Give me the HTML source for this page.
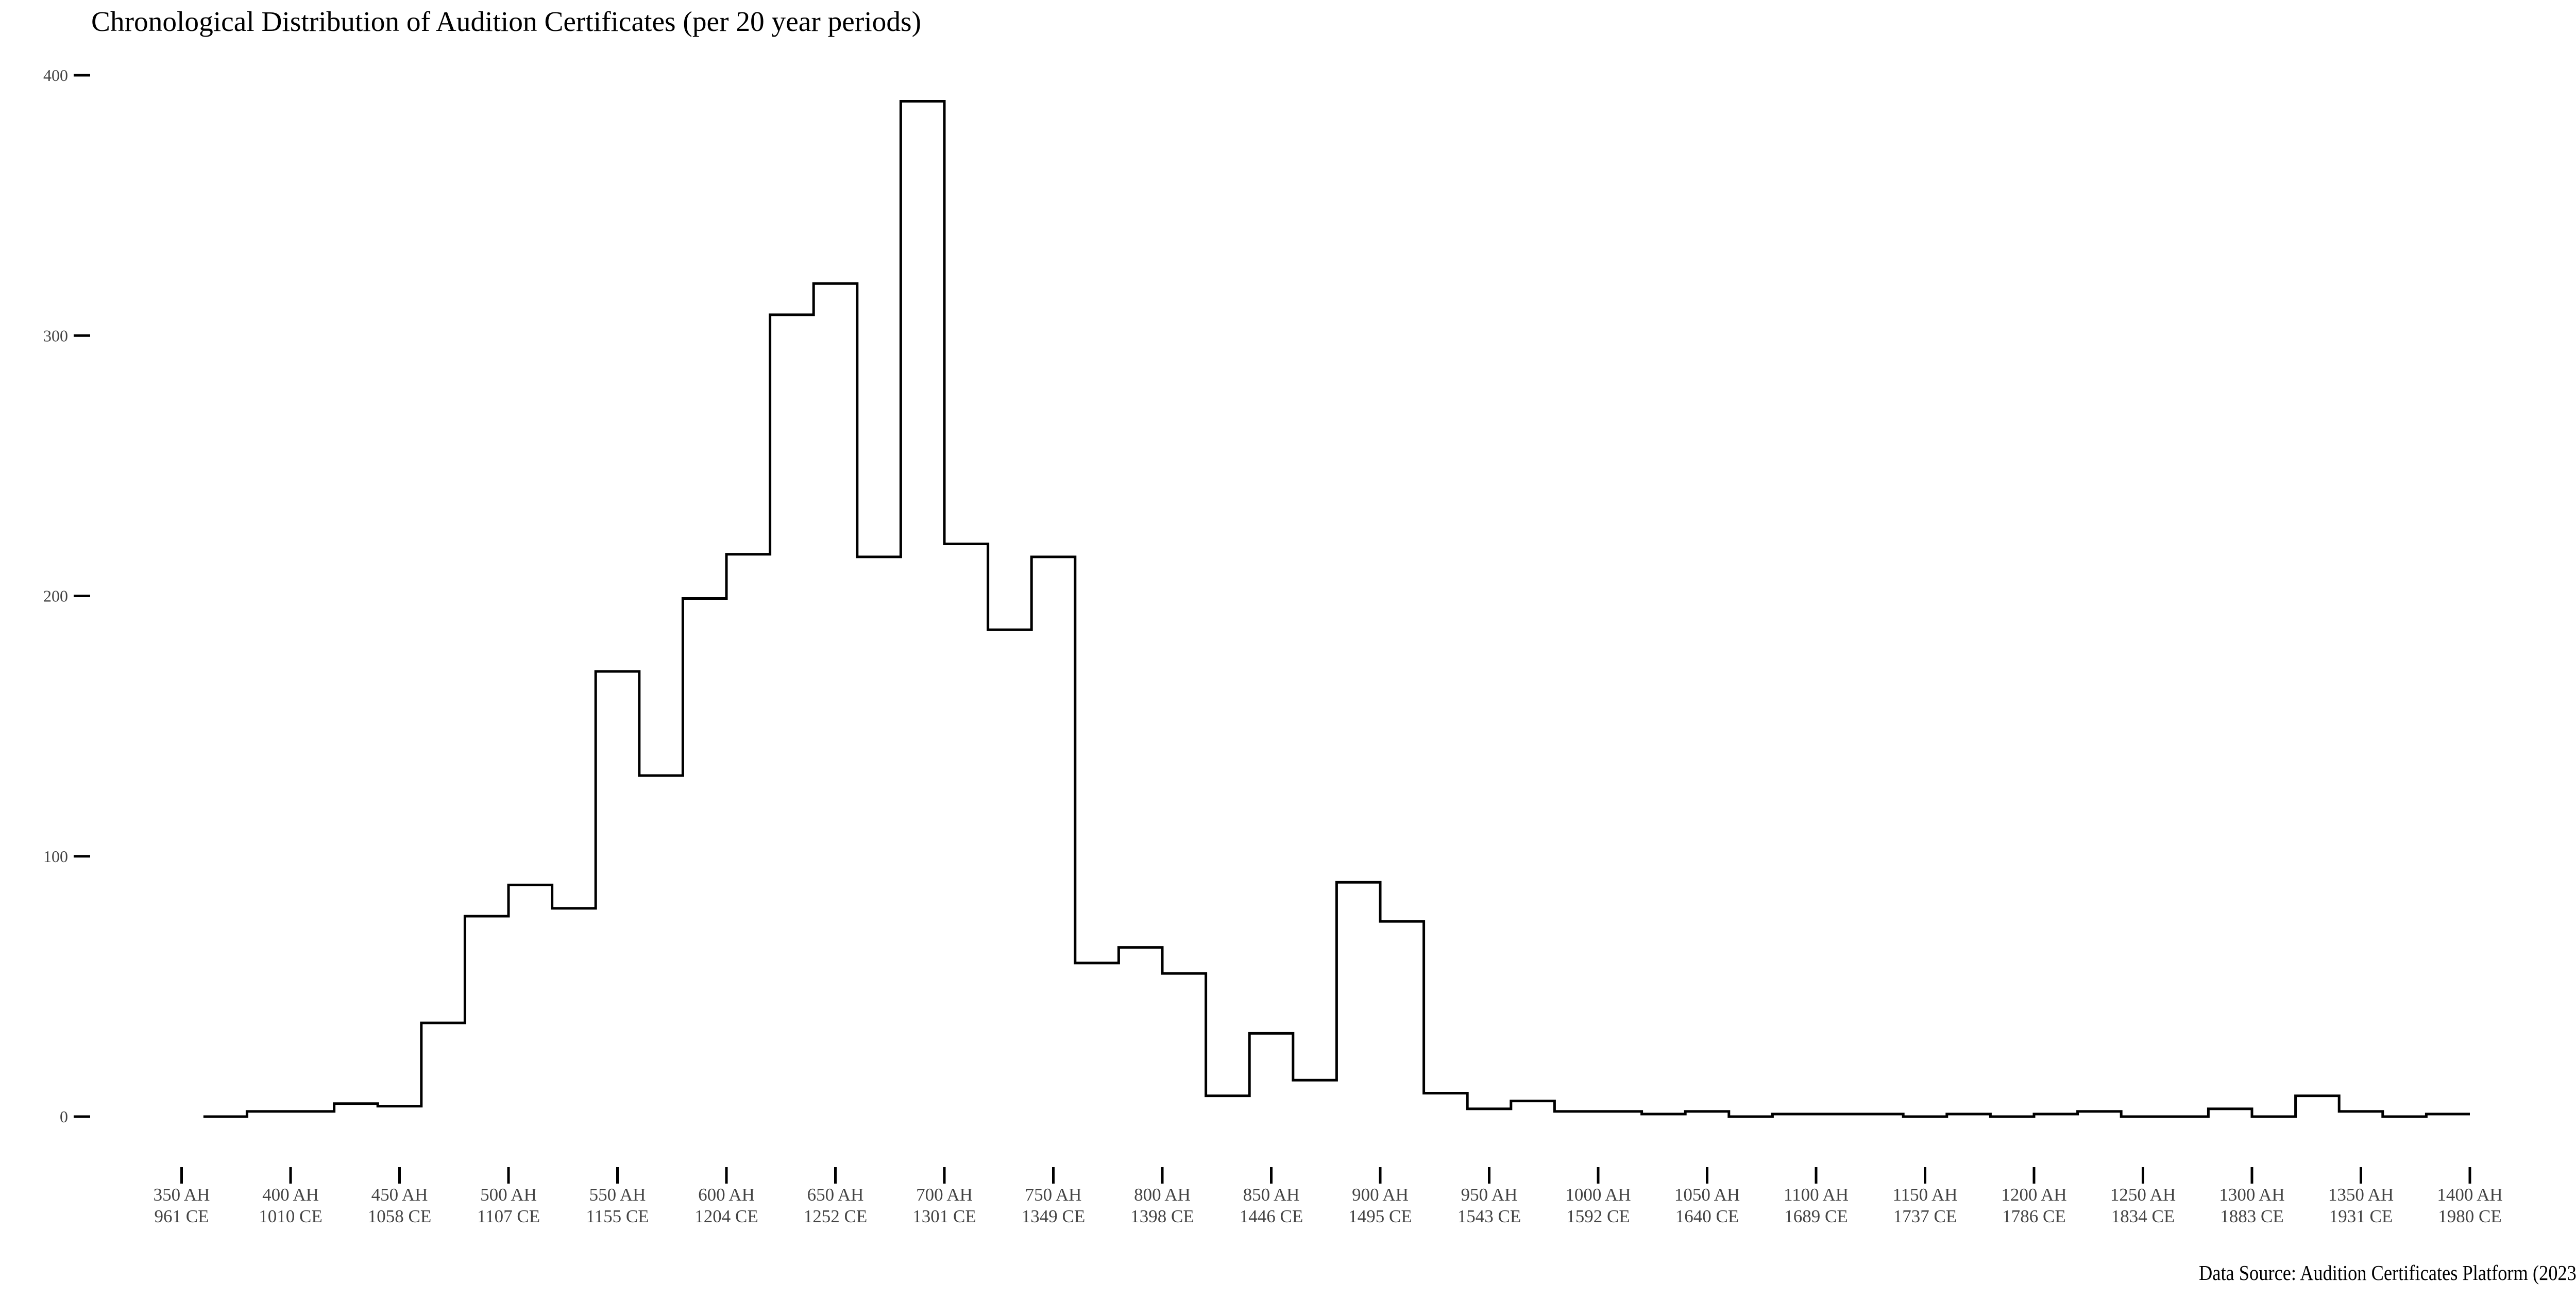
<!DOCTYPE html>
<html>
<head>
<meta charset="utf-8">
<style>
html,body{margin:0;padding:0;background:#fff;overflow:hidden;}
svg{display:block;}
text{font-family:"Liberation Serif",serif;}
</style>
</head>
<body>
<svg id="chart" width="5039" height="2519" viewBox="0 0 5039 2519" xmlns="http://www.w3.org/2000/svg">
  <text x="177" y="60" font-size="55" fill="#000" textLength="1611" lengthAdjust="spacingAndGlyphs">Chronological Distribution of Audition Certificates (per 20 year periods)</text>
  <g id="yaxis"></g>
  <g id="xaxis"></g>
  <path id="step" fill="none" stroke="#000" stroke-width="5" stroke-linejoin="miter"></path>
  <text x="4268" y="2484" font-size="41" fill="#000" textLength="745" lengthAdjust="spacingAndGlyphs">Data Source: Audition Certificates Platform (2023)</text>
</svg>
<script>
const binStarts = [360,380,400,420,440,460,480,500,520,540,560,580,600,620,640,660,680,700,720,740,760,780,800,820,840,860,880,900,920,940,960,980,1000,1020,1040,1060,1080,1100,1120,1140,1160,1180,1200,1220,1240,1260,1280,1300,1320,1340,1360,1380];
const counts = [0,2,2,5,4,36,77,89,80,171,131,199,216,308,320,215,390,220,187,215,59,65,55,8,32,14,90,75,9,3,6,2,2,1,2,0,1,1,1,0,1,0,1,2,0,0,3,0,8,2,0,1];
const binWidth = 20;
const yTicks = [0,100,200,300,400];
const xTickAH = [350,400,450,500,550,600,650,700,750,800,850,900,950,1000,1050,1100,1150,1200,1250,1300,1350,1400];
const xTickCE = [961,1010,1058,1107,1155,1204,1252,1301,1349,1398,1446,1495,1543,1592,1640,1689,1737,1786,1834,1883,1931,1980];

const NS = "http://www.w3.org/2000/svg";
function xs(v){ return 352.5 + (v - 350) * (4441.5 / 1050); }
function ys(v){ return 2167 - v * (2021 / 400); }

const yg = document.getElementById('yaxis');
yTicks.forEach(t => {
  const l = document.createElementNS(NS,'line');
  
  
  l.setAttribute('x1',143); l.setAttribute('x2',175);
  l.setAttribute('y1',ys(t)); l.setAttribute('y2',ys(t));
  l.setAttribute('stroke','#000'); l.setAttribute('stroke-width','5');
  yg.appendChild(l);
  const tx = document.createElementNS(NS,'text');
  
  
  tx.setAttribute('x',132); tx.setAttribute('y',ys(t)+11);
  tx.setAttribute('text-anchor','end'); tx.setAttribute('font-size','32');
  tx.setAttribute('fill','#444');
  tx.textContent = t;
  yg.appendChild(tx);
});

const xg = document.getElementById('xaxis');
xTickAH.forEach((a,i) => {
  const x = xs(a);
  const l = document.createElementNS(NS,'line');
  
  
  l.setAttribute('x1',x); l.setAttribute('x2',x);
  l.setAttribute('y1',2265); l.setAttribute('y2',2297);
  l.setAttribute('stroke','#000'); l.setAttribute('stroke-width','5');
  xg.appendChild(l);
  const t1 = document.createElementNS(NS,'text');
  
  
  t1.setAttribute('x',x); t1.setAttribute('y',2330);
  t1.setAttribute('text-anchor','middle'); t1.setAttribute('font-size','35');
  t1.setAttribute('fill','#444');
  t1.textContent = a + ' AH';
  xg.appendChild(t1);
  const t2 = document.createElementNS(NS,'text');
  
  
  t2.setAttribute('x',x); t2.setAttribute('y',2372);
  t2.setAttribute('text-anchor','middle'); t2.setAttribute('font-size','35');
  t2.setAttribute('fill','#444');
  t2.textContent = xTickCE[i] + ' CE';
  xg.appendChild(t2);
});

let d = '';
binStarts.forEach((s,i) => {
  const x0 = xs(s), x1 = xs(s + binWidth), y = ys(counts[i]);
  d += (i === 0 ? 'M' : 'L') + x0 + ' ' + y + ' L' + x1 + ' ' + y + ' ';
});
document.getElementById('step').setAttribute('d', d);
</script>
</body>
</html>
